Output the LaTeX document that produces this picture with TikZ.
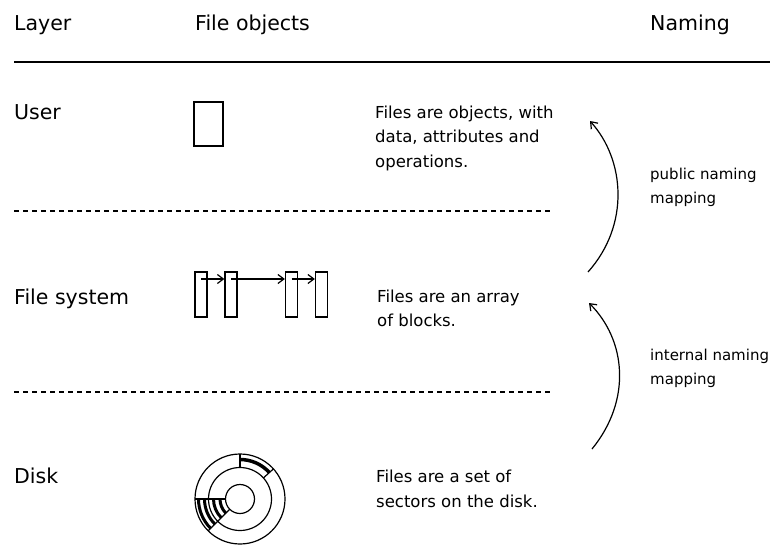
\documentclass[tikz,border=0pt]{standalone}
\usepackage{fontspec}
\setmainfont{DejaVu Sans}
\usetikzlibrary{arrows.meta}
\begin{document}
\begin{tikzpicture}[x=1pt,y=-1pt,
  hdr/.style={anchor=base west,inner sep=0pt,font=\fontsize{20.5}{24}\selectfont},
  body/.style={anchor=north west,inner sep=0pt,align=left,font=\fontsize{16.5}{24.5}\selectfont},
  namebody/.style={body,font=\fontsize{15}{24}\selectfont},
  thin/.style={line width=1.2pt},
  blk/.style={draw,line width=1.2pt,minimum width=12pt,minimum height=45pt,inner sep=0pt},
  tip/.style={-{Straight Barb[length=6pt,width=9pt]},line width=1.2pt}]
\useasboundingbox (0,0) rectangle (777,544);
% headers
\node[hdr] (hlayer) at (14,30) {Layer};
\node[hdr] (hfile) at (195,30) {File objects};
\node[hdr] (hnaming) at (650,30) {Naming};
\draw[thin] (14,62) -- (770,62);
% layer labels
\node[hdr] (luser) at (14,119) {User};
\node[hdr] (lfs) at (14,304) {File system};
\node[hdr] (ldisk) at (14,483) {Disk};
% dashed separators
\draw[thin,dash pattern=on 5pt off 4pt] (14,211) -- (553,211);
\draw[thin,dash pattern=on 5pt off 4pt] (14,392) -- (553,392);
% descriptions
\node[body] (duser) at (375,105.5) {Files are objects, with\\data, attributes and\\operations.};
\node[body] (dfs) at (377,289.5) {Files are an array\\of blocks.};
\node[body] (ddisk) at (376,470) {Files are a set of\\sectors on the disk.};
\node[namebody] (pub) at (650,168) {public naming\\mapping};
\node[namebody] (int) at (650,349) {internal naming\\mapping};
% user object
\node[draw,line width=1.2pt,minimum width=29pt,minimum height=44pt,inner sep=0pt] (uobj) at (208.5,124) {};
% blocks
\node[blk] (b1) at (201,294.5) {};
\node[blk] (b2) at (231,294.5) {};
\node[blk] (b3) at (291.5,294.5) {};
\node[blk] (b4) at (321.5,294.5) {};
\draw[tip] (b1.center |- 0,279) -- (b2.west |- 0,279);
\draw[tip] (b2.center |- 0,279) -- (b3.west |- 0,279);
\draw[tip] (b3.center |- 0,279) -- (b4.west |- 0,279);
% naming arrows
\coordinate (a1s) at (588,272);
\coordinate (a1e) at (590,121);
\coordinate (a2s) at (592,449);
\coordinate (a2e) at (589,303);
\draw[tip] (a1s) .. controls (630,225) and (625,160) .. (a1e);
\draw[tip] (a2s) .. controls (632,400) and (626,340) .. (a2e);
% disk
\begin{scope}[shift={(240,499)},y=1pt]
  \draw[thin] (0,0) circle[radius=45];
  \draw[thin] (0,0) circle[radius=31.5];
  \draw[thin] (0,0) circle[radius=14.5];
  \draw[thin] (90:31.5) -- (90:45);
  \draw[thin] (42:31.5) -- (42:45);
  \draw[line width=3.5pt] (90:39.5) arc[start angle=90,end angle=42,radius=39.5];
  \draw[thin] (180:14.5) -- (180:45);
  \draw[thin] (225:14.5) -- (225:45);
  \foreach \r in {20,26.5,35.5,41.5}
    \draw[line width=3pt] (180:\r) arc[start angle=180,end angle=225,radius=\r];
\end{scope}
\end{tikzpicture}
\end{document}
